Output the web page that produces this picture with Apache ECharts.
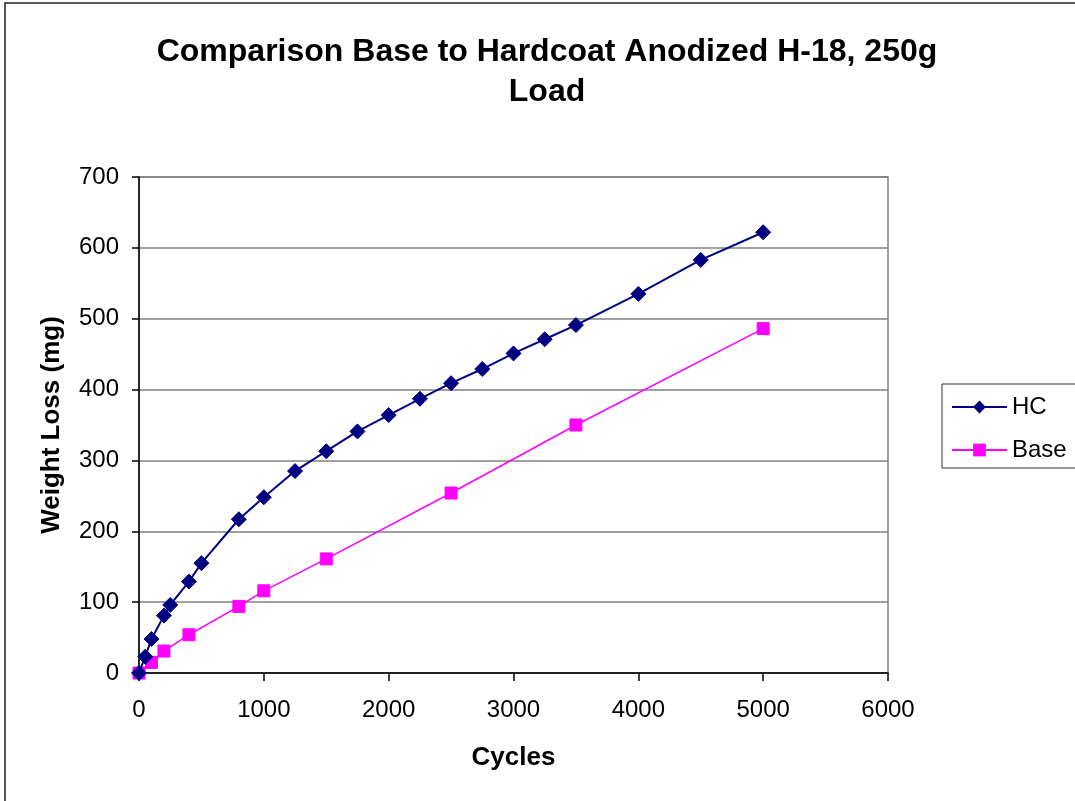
<!DOCTYPE html>
<html>
<head>
    <meta charset="UTF-8">
    <title>Comparison Base to Hardcoat Anodized H-18</title>
    <style>
        html, body {margin:0; padding:0; background:#fff;}
        #main {width:1075px; height:801px;}
    </style>
</head>
<body>
<div id="main"></div>
<script src="https://cdn.jsdelivr.net/npm/echarts@6/dist/echarts.min.js"></script>
<script>
    // cycles and weight loss (mg)
    var hcCycles   = [0, 50, 100, 200, 250, 400, 500, 800, 1000, 1250, 1500, 1750, 2000, 2250, 2500, 2750, 3000, 3250, 3500, 4000, 4500, 5000];
    var hcLoss     = [0, 23, 48, 81, 96, 129, 155, 217, 248, 285, 313, 341, 364, 387, 409, 429, 451, 471, 491, 535, 583, 622];
    var baseCycles = [0, 100, 200, 400, 800, 1000, 1500, 2500, 3500, 5000];
    var baseLoss   = [0, 15, 31, 54, 94, 116, 161, 254, 350, 486];
    var seriesNames = ['HC', 'Base'];

    function pairs(xs, ys) {
        return xs.map(function (x, i) { return [x, ys[i]]; });
    }

    var font = "'Liberation Sans', Arial, sans-serif";
    var myChart = echarts.init(document.getElementById('main'));

    var option = {
        backgroundColor: '#fff',
        animation: false,
        textStyle: {fontFamily: font, color: '#000'},
        title: {
            text: 'Comparison Base to Hardcoat Anodized H-18, 250g\nLoad',
            left: 542,
            top: 27,
            textAlign: 'center',
            textStyle: {
                fontFamily: font,
                fontSize: 32,
                fontWeight: 'bold',
                lineHeight: 40,
                color: '#000'
            }
        },
        grid: {
            left: 139, right: 187, top: 177, bottom: 128,
            show: true,
            borderColor: '#808080',
            borderWidth: 1.5
        },
        legend: {
            orient: 'vertical',
            left: 951,
            top: 395,
            padding: 0,
            itemWidth: 55,
            itemHeight: 16,
            itemGap: 19,
            data: seriesNames,
            textStyle: {fontFamily: font, fontSize: 24, color: '#000'}
        },
        graphic: [
            {type: 'rect', shape: {x: 5, y: 3, width: 1200, height: 900},
             style: {fill: 'none', stroke: '#222', lineWidth: 1.5}, silent: true},
            {type: 'rect', shape: {x: 942, y: 384, width: 200, height: 84},
             style: {fill: 'none', stroke: '#333', lineWidth: 1}, silent: true, z: -1}
        ],
        xAxis: {
            type: 'value',
            min: 0, max: 6000, interval: 1000,
            name: 'Cycles',
            nameLocation: 'middle',
            nameGap: 72,
            nameTextStyle: {fontFamily: font, fontSize: 26, fontWeight: 'bold', color: '#000'},
            axisLine: {show: true, lineStyle: {color: '#000', width: 1.5}},
            axisTick: {show: true, inside: false, length: 8, lineStyle: {color: '#000', width: 1.5}},
            axisLabel: {fontFamily: font, fontSize: 24, color: '#000', margin: 25,
                        formatter: function (v) { return String(v); }},
            splitLine: {show: false}
        },
        yAxis: {
            type: 'value',
            min: 0, max: 700, interval: 100,
            name: 'Weight Loss (mg)',
            nameLocation: 'middle',
            nameGap: 74,
            nameTextStyle: {fontFamily: font, fontSize: 26, fontWeight: 'bold', color: '#000'},
            axisLine: {show: true, lineStyle: {color: '#000', width: 1.5}},
            axisTick: {show: true, inside: false, length: 7, lineStyle: {color: '#000', width: 1.5}},
            axisLabel: {fontFamily: font, fontSize: 24, color: '#000', margin: 20},
            splitLine: {show: true, lineStyle: {color: '#808080', width: 1.5}}
        },
        series: [
            {
                name: seriesNames[0],
                type: 'line',
                data: pairs(hcCycles, hcLoss),
                symbol: 'diamond',
                symbolSize: 15,
                showAllSymbol: true,
                lineStyle: {color: '#000080', width: 2},
                itemStyle: {color: '#000080', borderColor: '#000080'},
                z: 3
            },
            {
                name: seriesNames[1],
                type: 'line',
                data: pairs(baseCycles, baseLoss),
                symbol: 'rect',
                symbolSize: 12,
                showAllSymbol: true,
                lineStyle: {color: '#FF00FF', width: 1.5},
                itemStyle: {color: '#FF00FF', borderColor: '#FF00FF'},
                z: 2
            }
        ]
    };
    myChart.setOption(option);
</script>
</body>
</html>
